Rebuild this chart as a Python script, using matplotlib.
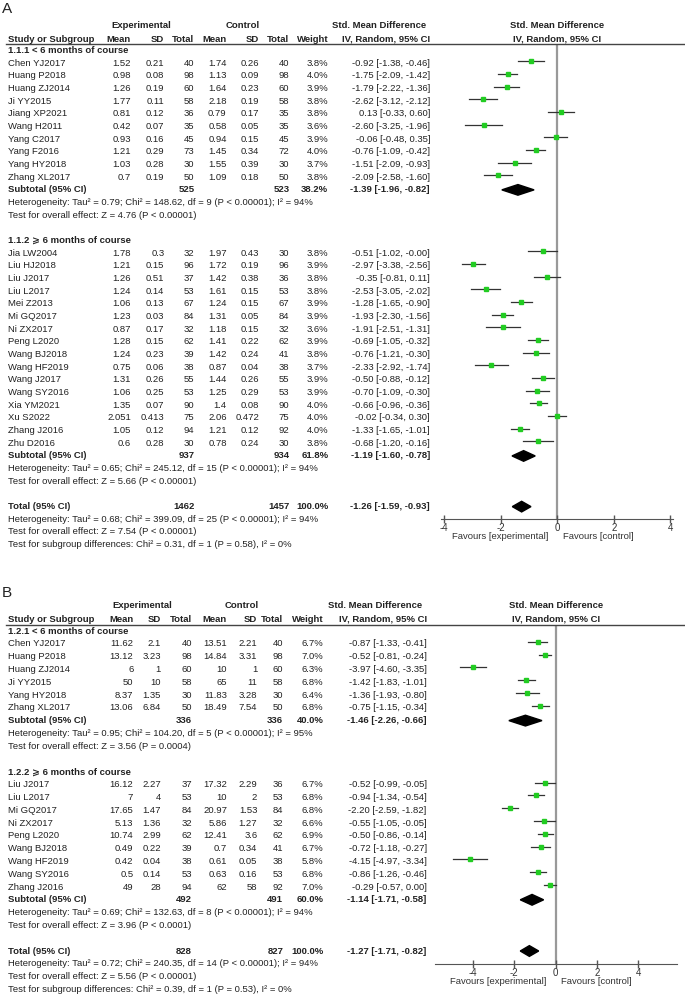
import matplotlib.pyplot as plt
import matplotlib.transforms as mtransforms
from matplotlib.patches import Polygon

plt.rcParams['font.family'] = ['Liberation Sans', 'DejaVu Sans']
plt.rcParams['axes.unicode_minus'] = False

W, H = 685, 996
FS = 6.8
TXT = '#222222'

# ---------------- panel A data ----------------
a1_title = "1.1.1 < 6 months of course"
a1_study = ["Chen YJ2017", "Huang P2018", "Huang ZJ2014", "Ji YY2015", "Jiang XP2021",
            "Wang H2011", "Yang C2017", "Yang F2016", "Yang HY2018", "Zhang XL2017"]
a1_exp_mean = [1.52, 0.98, 1.26, 1.77, 0.81, 0.42, 0.93, 1.21, 1.03, 0.7]
a1_exp_sd = [0.21, 0.08, 0.19, 0.11, 0.12, 0.07, 0.16, 0.29, 0.28, 0.19]
a1_exp_n = [40, 98, 60, 58, 36, 35, 45, 73, 30, 50]
a1_ctl_mean = [1.74, 1.13, 1.64, 2.18, 0.79, 0.58, 0.94, 1.45, 1.55, 1.09]
a1_ctl_sd = [0.26, 0.09, 0.23, 0.19, 0.17, 0.05, 0.15, 0.34, 0.39, 0.18]
a1_ctl_n = [40, 98, 60, 58, 35, 35, 45, 72, 30, 50]
a1_weight = [3.8, 4.0, 3.9, 3.8, 3.8, 3.6, 3.9, 4.0, 3.7, 3.8]
a1_smd = [-0.92, -1.75, -1.79, -2.62, 0.13, -2.60, -0.06, -0.76, -1.51, -2.09]
a1_lo = [-1.38, -2.09, -2.22, -3.12, -0.33, -3.25, -0.48, -1.09, -2.09, -2.58]
a1_hi = [-0.46, -1.42, -1.36, -2.12, 0.60, -1.96, 0.35, -0.42, -0.93, -1.60]
a1_sub = [525, 523, 38.2, -1.39, -1.96, -0.82]
a1_het = "Heterogeneity: Tau² = 0.79; Chi² = 148.62, df = 9 (P < 0.00001); I² = 94%"
a1_test = "Test for overall effect: Z = 4.76 (P < 0.00001)"

a2_title = "1.1.2 ⩾ 6 months of course"
a2_study = ["Jia LW2004", "Liu HJ2018", "Liu J2017", "Liu L2017", "Mei Z2013", "Mi GQ2017",
            "Ni ZX2017", "Peng L2020", "Wang BJ2018", "Wang HF2019", "Wang J2017",
            "Wang SY2016", "Xia YM2021", "Xu S2022", "Zhang J2016", "Zhu D2016"]
a2_exp_mean = [1.78, 1.21, 1.26, 1.24, 1.06, 1.23, 0.87, 1.28, 1.24, 0.75, 1.31, 1.06, 1.35, 2.051, 1.05, 0.6]
a2_exp_sd = [0.3, 0.15, 0.51, 0.14, 0.13, 0.03, 0.17, 0.15, 0.23, 0.06, 0.26, 0.25, 0.07, 0.413, 0.12, 0.28]
a2_exp_n = [32, 96, 37, 53, 67, 84, 32, 62, 39, 38, 55, 53, 90, 75, 94, 30]
a2_ctl_mean = [1.97, 1.72, 1.42, 1.61, 1.24, 1.31, 1.18, 1.41, 1.42, 0.87, 1.44, 1.25, 1.4, 2.06, 1.21, 0.78]
a2_ctl_sd = [0.43, 0.19, 0.38, 0.15, 0.15, 0.05, 0.15, 0.22, 0.24, 0.04, 0.26, 0.29, 0.08, 0.472, 0.12, 0.24]
a2_ctl_n = [30, 96, 36, 53, 67, 84, 32, 62, 41, 38, 55, 53, 90, 75, 92, 30]
a2_weight = [3.8, 3.9, 3.8, 3.8, 3.9, 3.9, 3.6, 3.9, 3.8, 3.7, 3.9, 3.9, 4.0, 4.0, 4.0, 3.8]
a2_smd = [-0.51, -2.97, -0.35, -2.53, -1.28, -1.93, -1.91, -0.69, -0.76, -2.33, -0.50, -0.70, -0.66, -0.02, -1.33, -0.68]
a2_lo = [-1.02, -3.38, -0.81, -3.05, -1.65, -2.30, -2.51, -1.05, -1.21, -2.92, -0.88, -1.09, -0.96, -0.34, -1.65, -1.20]
a2_hi = [-0.0, -2.56, 0.11, -2.02, -0.90, -1.56, -1.31, -0.32, -0.30, -1.74, -0.12, -0.30, -0.36, 0.30, -1.01, -0.16]
a2_sub = [937, 934, 61.8, -1.19, -1.60, -0.78]
a2_het = "Heterogeneity: Tau² = 0.65; Chi² = 245.12, df = 15 (P < 0.00001); I² = 94%"
a2_test = "Test for overall effect: Z = 5.66 (P < 0.00001)"

a_total = [1462, 1457, 100.0, -1.26, -1.59, -0.93]
a_total_notes = ["Heterogeneity: Tau² = 0.68; Chi² = 399.09, df = 25 (P < 0.00001); I² = 94%",
                 "Test for overall effect: Z = 7.54 (P < 0.00001)",
                 "Test for subgroup differences: Chi² = 0.31, df = 1 (P = 0.58), I² = 0%"]

# ---------------- panel B data ----------------
b1_title = "1.2.1 < 6 months of course"
b1_study = ["Chen YJ2017", "Huang P2018", "Huang ZJ2014", "Ji YY2015", "Yang HY2018", "Zhang XL2017"]
b1_exp_mean = [11.62, 13.12, 6, 50, 8.37, 13.06]
b1_exp_sd = [2.1, 3.23, 1, 10, 1.35, 6.84]
b1_exp_n = [40, 98, 60, 58, 30, 50]
b1_ctl_mean = [13.51, 14.84, 10, 65, 11.83, 18.49]
b1_ctl_sd = [2.21, 3.31, 1, 11, 3.28, 7.54]
b1_ctl_n = [40, 98, 60, 58, 30, 50]
b1_weight = [6.7, 7.0, 6.3, 6.8, 6.4, 6.8]
b1_smd = [-0.87, -0.52, -3.97, -1.42, -1.36, -0.75]
b1_lo = [-1.33, -0.81, -4.60, -1.83, -1.93, -1.15]
b1_hi = [-0.41, -0.24, -3.35, -1.01, -0.80, -0.34]
b1_sub = [336, 336, 40.0, -1.46, -2.26, -0.66]
b1_het = "Heterogeneity: Tau² = 0.95; Chi² = 104.20, df = 5 (P < 0.00001); I² = 95%"
b1_test = "Test for overall effect: Z = 3.56 (P = 0.0004)"

b2_title = "1.2.2 ⩾ 6 months of course"
b2_study = ["Liu J2017", "Liu L2017", "Mi GQ2017", "Ni ZX2017", "Peng L2020", "Wang BJ2018",
            "Wang HF2019", "Wang SY2016", "Zhang J2016"]
b2_exp_mean = [16.12, 7, 17.65, 5.13, 10.74, 0.49, 0.42, 0.5, 49]
b2_exp_sd = [2.27, 4, 1.47, 1.36, 2.99, 0.22, 0.04, 0.14, 28]
b2_exp_n = [37, 53, 84, 32, 62, 39, 38, 53, 94]
b2_ctl_mean = [17.32, 10, 20.97, 5.86, 12.41, 0.7, 0.61, 0.63, 62]
b2_ctl_sd = [2.29, 2, 1.53, 1.27, 3.6, 0.34, 0.05, 0.16, 58]
b2_ctl_n = [36, 53, 84, 32, 62, 41, 38, 53, 92]
b2_weight = [6.7, 6.8, 6.8, 6.6, 6.9, 6.7, 5.8, 6.8, 7.0]
b2_smd = [-0.52, -0.94, -2.20, -0.55, -0.50, -0.72, -4.15, -0.86, -0.29]
b2_lo = [-0.99, -1.34, -2.59, -1.05, -0.86, -1.18, -4.97, -1.26, -0.57]
b2_hi = [-0.05, -0.54, -1.82, -0.05, -0.14, -0.27, -3.34, -0.46, 0.00]
b2_sub = [492, 491, 60.0, -1.14, -1.71, -0.58]
b2_het = "Heterogeneity: Tau² = 0.69; Chi² = 132.63, df = 8 (P < 0.00001); I² = 94%"
b2_test = "Test for overall effect: Z = 3.96 (P < 0.0001)"

b_total = [828, 827, 100.0, -1.27, -1.71, -0.82]
b_total_notes = ["Heterogeneity: Tau² = 0.72; Chi² = 240.35, df = 14 (P < 0.00001); I² = 94%",
                 "Test for overall effect: Z = 5.56 (P < 0.00001)",
                 "Test for subgroup differences: Chi² = 0.39, df = 1 (P = 0.53), I² = 0%"]

xticks = [-4, -2, 0, 2, 4]

fig = plt.figure(figsize=(W / 100, H / 100), dpi=100)


def ci_str(e, lo, hi):
    return f"{e:.2f} [{lo:.2f}, {hi:.2f}]"


def panel(label, geo, groups, total, total_notes):
    ry = lambda py: (py - geo['row0']) / geo['step']
    ax = fig.add_axes([geo['x0'] / W, 1 - geo['axis'] / H,
                       (geo['x1'] - geo['x0']) / W, (geo['axis'] - geo['line']) / H])
    ax.set_xlim(geo['xlim'])
    ax.set_ylim(ry(geo['axis']), ry(geo['line']))
    for s in ['left', 'right', 'top']:
        ax.spines[s].set_visible(False)
    ax.spines['bottom'].set_color('#555555')
    ax.set_yticks([])
    ax.set_xticks(xticks)
    ax.tick_params(axis='x', direction='inout', length=6, width=1, color='#555555',
                   labelsize=7, labelcolor='#333333', pad=0)
    ax.axvline(0, color='#999999', lw=1.6, zorder=1)

    tr = mtransforms.blended_transform_factory(fig.transFigure, ax.transData)
    cx = [c / W for c in geo['cols']]

    def put(col, row, s, bold=False, ha='right'):
        ax.text(col, row, s, transform=tr, ha=ha, va='center', fontsize=FS,
                color=TXT, fontweight='bold' if bold else 'normal')

    # panel letter and headers
    fig.text(2 / W, 1 - geo['label'] / H, label, fontsize=11, color='#222222',
             ha='left', va='center')
    h1, h2 = ry(geo['hdr1']), ry(geo['hdr2'])
    put(geo['hc'][0] / W, h1, "Experimental", True, 'center')
    put(geo['hc'][1] / W, h1, "Control", True, 'center')
    put(geo['hc'][2] / W, h1, "Std. Mean Difference", True, 'center')
    put(cx[0], h2, "Study or Subgroup", True, 'left')
    for c, s in zip(cx[1:], ["Mean", "SD", "Total", "Mean", "SD", "Total", "Weight",
                             "IV, Random, 95% CI"]):
        put(c, h2, s, True)
    ax.text(0, h1, "Std. Mean Difference", ha='center', va='center', fontsize=FS,
            color=TXT, fontweight='bold', clip_on=False)
    ax.text(0, h2, "IV, Random, 95% CI", ha='center', va='center', fontsize=FS,
            color=TXT, fontweight='bold', clip_on=False)
    ax.plot([6 / W, 1], [ry(geo['line'])] * 2, transform=tr, color='#444444',
            lw=1, clip_on=False)

    def diamond(row, e, lo, hi):
        ax.add_patch(Polygon([(lo, row), (e, row - 0.42), (hi, row), (e, row + 0.42)],
                             closed=True, color='black', zorder=3))

    def summary_row(row, name, vals):
        put(cx[0], row, name, True, 'left')
        put(cx[3], row, f"{vals[0]}", True)
        put(cx[6], row, f"{vals[1]}", True)
        put(cx[7], row, f"{vals[2]:.1f}%", True)
        put(cx[8], row, ci_str(*vals[3:]), True)
        diamond(row, *vals[3:])

    r = 0
    for g in groups:
        (title, study, em, esd, en, cm, csd, cn, wt, smd, lo, hi, sub, het, test) = g
        put(cx[0], r, title, True, 'left')
        r += 1
        for i in range(len(study)):
            put(cx[0], r, study[i], ha='left')
            cells = [f"{em[i]:g}", f"{esd[i]:g}", f"{en[i]}", f"{cm[i]:g}", f"{csd[i]:g}",
                     f"{cn[i]}", f"{wt[i]:.1f}%", ci_str(smd[i], lo[i], hi[i])]
            for c, s in zip(cx[1:], cells):
                put(c, r, s)
            ax.plot([lo[i], hi[i]], [r - 0.15, r - 0.15], color='#333333', lw=0.9, zorder=2)
            ax.plot(smd[i], r - 0.15, 's', color='#22cc22', markersize=2.2, zorder=3)
            r += 1
        summary_row(r, "Subtotal (95% CI)", sub)
        for k, d in enumerate([het, test]):
            put(cx[0], r + 1 + k, d, ha='left')
        r += 4
    summary_row(r, "Total (95% CI)", total)
    for k, d in enumerate(total_notes):
        put(cx[0], r + 1 + k, d, ha='left')

    ax.annotate("Favours [experimental]", xy=(0, 0), xycoords=('data', 'axes fraction'),
                xytext=(-6.5, -13), textcoords='offset points', ha='right', va='center',
                fontsize=FS, color='#333333')
    ax.annotate("Favours [control]", xy=(0, 0), xycoords=('data', 'axes fraction'),
                xytext=(4, -13), textcoords='offset points', ha='left', va='center',
                fontsize=FS, color='#333333')


geo_a = dict(label=9, hdr1=25, hdr2=39, line=43.5, row0=50.5, step=12.67, axis=518.5,
             x0=440.7, x1=673.3, xlim=(-4.12, 4.1),
             cols=[8.3, 131, 164.3, 194.3, 226.7, 259, 289.3, 328.3, 430],
             hc=[141.7, 242.3, 379.3])
geo_b = dict(label=593, hdr1=605, hdr2=619, line=625, row0=631, step=12.8, axis=963.5,
             x0=435, x1=676.7, xlim=(-5.83, 5.85),
             cols=[8.3, 133.3, 161, 192, 227, 257.3, 283.3, 323.3, 426.7],
             hc=[142.7, 242, 375])

panel("A", geo_a,
      [(a1_title, a1_study, a1_exp_mean, a1_exp_sd, a1_exp_n, a1_ctl_mean, a1_ctl_sd, a1_ctl_n,
        a1_weight, a1_smd, a1_lo, a1_hi, a1_sub, a1_het, a1_test),
       (a2_title, a2_study, a2_exp_mean, a2_exp_sd, a2_exp_n, a2_ctl_mean, a2_ctl_sd, a2_ctl_n,
        a2_weight, a2_smd, a2_lo, a2_hi, a2_sub, a2_het, a2_test)],
      a_total, a_total_notes)
panel("B", geo_b,
      [(b1_title, b1_study, b1_exp_mean, b1_exp_sd, b1_exp_n, b1_ctl_mean, b1_ctl_sd, b1_ctl_n,
        b1_weight, b1_smd, b1_lo, b1_hi, b1_sub, b1_het, b1_test),
       (b2_title, b2_study, b2_exp_mean, b2_exp_sd, b2_exp_n, b2_ctl_mean, b2_ctl_sd, b2_ctl_n,
        b2_weight, b2_smd, b2_lo, b2_hi, b2_sub, b2_het, b2_test)],
      b_total, b_total_notes)

fig.savefig("out.png", dpi=100)
